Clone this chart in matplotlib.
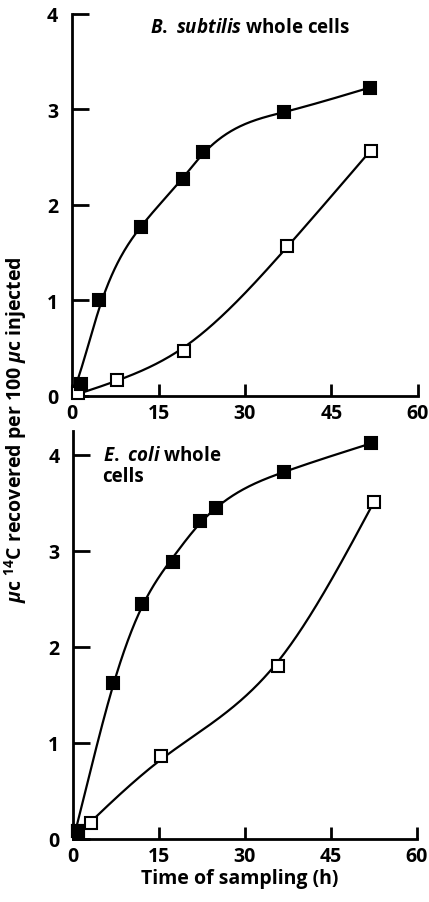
import numpy as np
import matplotlib
matplotlib.use('Agg')
import matplotlib.pyplot as plt

plt.rcParams['font.family'] = ['Open Sans', 'DejaVu Sans']
plt.rcParams['font.weight'] = 'bold'
plt.rcParams['axes.labelweight'] = 'bold'
plt.rcParams['mathtext.fontset'] = 'custom'
plt.rcParams['mathtext.rm'] = 'Open Sans:bold'
plt.rcParams['mathtext.it'] = 'Open Sans:italic:bold'
plt.rcParams['mathtext.bf'] = 'Open Sans:bold'

# B. subtilis whole cells (top)
bs_time_filled = [1.5, 4.7, 12.0, 19.3, 22.7, 36.8, 51.7]
bs_val_filled = [0.13, 1.00, 1.77, 2.27, 2.55, 2.97, 3.23]
bs_time_open = [1.0, 7.8, 19.4, 37.3, 51.8]
bs_val_open = [0.03, 0.17, 0.47, 1.57, 2.57]

# E. coli whole cells (bottom)
ec_time_filled = [0.8, 6.9, 12.0, 17.5, 22.1, 25.0, 36.9, 52.0]
ec_val_filled = [0.08, 1.63, 2.45, 2.89, 3.31, 3.45, 3.82, 4.12]
ec_time_open = [0.8, 3.0, 15.3, 35.8, 52.5]
ec_val_open = [0.08, 0.17, 0.86, 1.80, 3.51]

x_ticks = [0, 15, 30, 45, 60]
y_ticks = [0, 1, 2, 3, 4]


def smooth_curve(t, v, lam, n=400):
    # smoothing spline on a fine grid (hand-drawn style curve from the origin)
    t = np.concatenate([[0.0], t])
    v = np.concatenate([[0.0], v])
    w = np.ones(len(t))
    w[0] = 20.0
    w[-1] = 5.0
    xs = np.linspace(0, t[-1], n)
    h = xs[1] - xs[0]
    W = np.zeros(n)
    Y = np.zeros(n)
    for ti, vi, wi in zip(t, v, w):
        k = int(round(ti / h))
        W[k] += wi
        Y[k] += wi * vi
    D = np.diff(np.eye(n), 2, axis=0)
    A = np.diag(W) + lam / h**3 * D.T @ D
    return xs, np.linalg.solve(A, Y)


def draw(ax, tf, vf, to, vo, lam_f, lam_o):
    xs, ys = smooth_curve(to, vo, lam_o)
    ax.plot(xs, ys, color='black', lw=1.6, zorder=2)
    ax.plot(to, vo, 's', ms=9, mfc='white', mec='black', mew=1.5, zorder=3, clip_on=False)
    xs, ys = smooth_curve(tf, vf, lam_f)
    ax.plot(xs, ys, color='black', lw=1.6, zorder=2)
    ax.plot(tf, vf, 's', ms=9, mfc='black', mec='black', mew=1.5, zorder=4, clip_on=False)
    ax.spines['top'].set_visible(False)
    ax.spines['right'].set_visible(False)
    ax.spines['left'].set_linewidth(2)
    ax.spines['bottom'].set_linewidth(2)
    ax.set_xlim(0, 60)
    ax.set_xticks(x_ticks)
    ax.set_yticks(y_ticks)
    ax.tick_params(axis='y', direction='in', length=12, width=2, labelsize=14, pad=10)
    ax.tick_params(axis='x', direction='in', length=9, width=2, labelsize=14, pad=5)


fig = plt.figure(figsize=(4.29, 9.03), dpi=100)

ax1 = fig.add_axes([0.168, 0.5604, 0.806, 0.4230])
draw(ax1, bs_time_filled, bs_val_filled, bs_time_open, bs_val_open, 5, 120)
ax1.set_ylim(0, 4)
ax1.text(0.226, 0.966, r'$\mathit{B.\ subtilis}$ whole cells', transform=ax1.transAxes,
         fontsize=13.5, ha='left', va='center')

ax2 = fig.add_axes([0.171, 0.0698, 0.80, 0.4518])
draw(ax2, ec_time_filled, ec_val_filled, ec_time_open, ec_val_open, 12, 90)
ax2.set_ylim(0, 4.25)
ax2.text(0.085, 0.966, r'$\mathit{E.\ coli}$ whole' + '\ncells', transform=ax2.transAxes,
         fontsize=13.5, ha='left', va='top', linespacing=1.05)
ax2.set_xlabel('Time of sampling (h)', fontsize=14, fontweight='bold', labelpad=3)
ax2.xaxis.set_label_coords(0.485, -0.07)

fig.text(0.037, 0.524, r'$\mu$c $^{14}$C recovered per 100 $\mu$c injected', rotation=90,
         ha='center', va='center', fontsize=14)

fig.savefig('out.png', dpi=100)
